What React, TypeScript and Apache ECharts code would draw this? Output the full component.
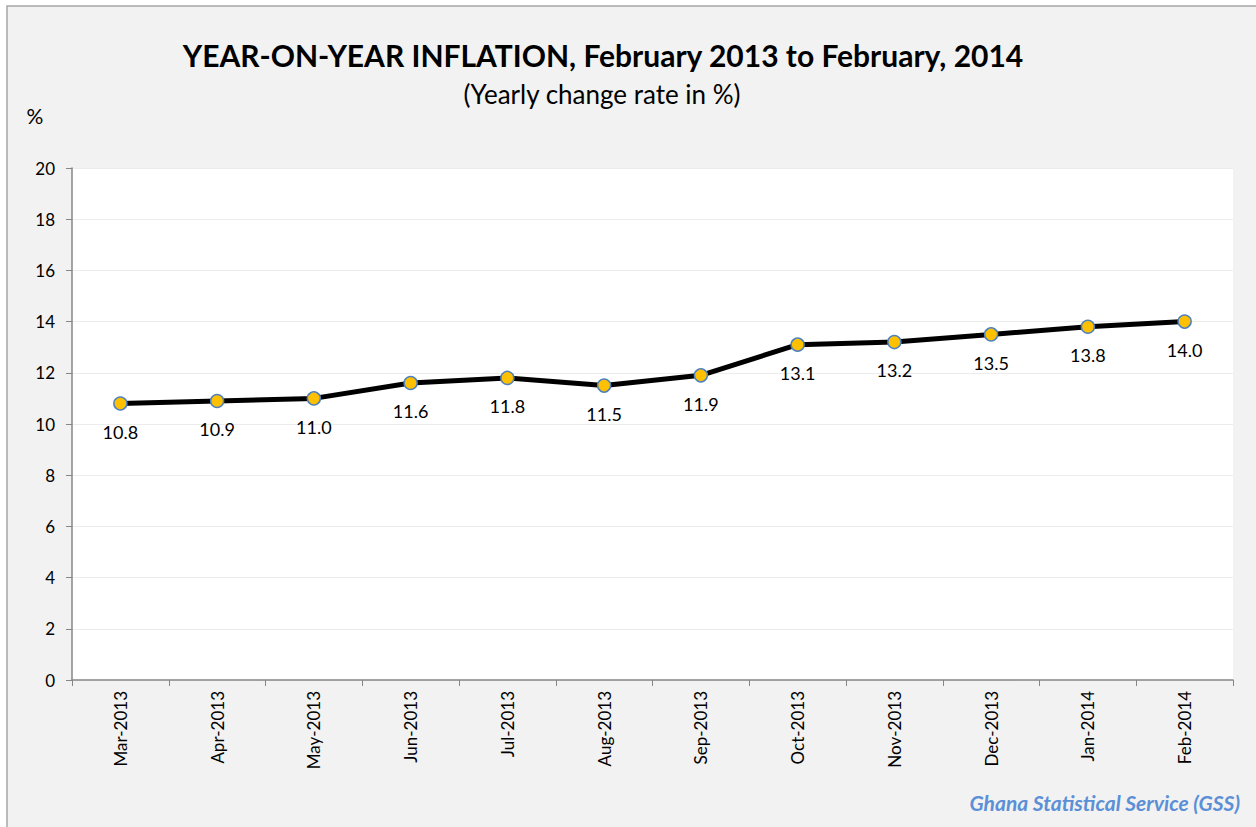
import React, { useEffect, useRef } from "react";
import * as echarts from "echarts";

const categories = ["Mar-2013", "Apr-2013", "May-2013", "Jun-2013", "Jul-2013", "Aug-2013", "Sep-2013", "Oct-2013", "Nov-2013", "Dec-2013", "Jan-2014", "Feb-2014"];
const inflation = [10.8, 10.9, 11.0, 11.6, 11.8, 11.5, 11.9, 13.1, 13.2, 13.5, 13.8, 14.0];
const titleText = "YEAR-ON-YEAR INFLATION, February 2013 to February, 2014";
const subtitleText = "(Yearly change rate in %)";
const sourceText = "Ghana Statistical Service (GSS)";

const FONT = "Lato, 'Open Sans', sans-serif";

export default function App() {
  const ref = useRef<HTMLDivElement>(null);
  useEffect(() => {
    document.body.style.margin = "0";
    const chart = echarts.init(ref.current!, null, { renderer: "svg" });
    chart.setOption({
      animation: false,
      backgroundColor: "#ffffff",
      textStyle: { fontFamily: FONT },
      graphic: [
        { type: "rect", z: -10, shape: { x: 7, y: 6, width: 1260, height: 830 }, style: { fill: "#f2f2f2", stroke: "#a6a6a6", lineWidth: 1.5 } },
        { type: "text", x: 603, y: 55, style: { text: titleText, font: `bold 30px ${FONT}`, fill: "#000", textAlign: "center", textVerticalAlign: "middle" } },
        { type: "text", x: 602, y: 94, style: { text: subtitleText, font: `26px ${FONT}`, fill: "#000", textAlign: "center", textVerticalAlign: "middle" } },
        { type: "text", x: 35, y: 115, style: { text: "%", font: `21px ${FONT}`, fill: "#000", textAlign: "center", textVerticalAlign: "middle" } },
        { type: "text", x: 1240, y: 802, style: { text: sourceText, font: `italic bold 21px ${FONT}`, fill: "#5b8fd6", textAlign: "right", textVerticalAlign: "middle" } },
      ],
      grid: { left: 72, right: 23, top: 168, bottom: 147, backgroundColor: "#ffffff", show: true, borderWidth: 0 },
      xAxis: {
        type: "category",
        data: categories,
        boundaryGap: true,
        axisLine: { lineStyle: { color: "#868686", width: 1.5 } },
        axisTick: { show: true, length: 6, lineStyle: { color: "#868686" } },
        axisLabel: { rotate: 90, color: "#000", fontSize: 17, margin: 11, fontFamily: FONT },
      },
      yAxis: {
        type: "value",
        min: 0,
        max: 20,
        interval: 2,
        axisLine: { show: true, lineStyle: { color: "#868686", width: 1.5 } },
        axisTick: { show: true, length: 6, lineStyle: { color: "#868686" } },
        axisLabel: { color: "#000", fontSize: 17, margin: 17, fontFamily: FONT },
        splitLine: { lineStyle: { color: "#ececec", width: 1 } },
      },
      series: [
        {
          type: "line",
          data: inflation,
          lineStyle: { color: "#000000", width: 5 },
          symbol: "circle",
          symbolSize: 13,
          itemStyle: { color: "#ffc000", borderColor: "#4f81bd", borderWidth: 1.5 },
          label: {
            show: true,
            position: "bottom",
            distance: 12,
            formatter: (p: any) => p.value.toFixed(1),
            color: "#000",
            fontSize: 18,
            fontFamily: FONT,
          },
        },
      ],
    });
    return () => chart.dispose();
  }, []);
  return <div ref={ref} style={{ width: 1256, height: 827 }} />;
}
